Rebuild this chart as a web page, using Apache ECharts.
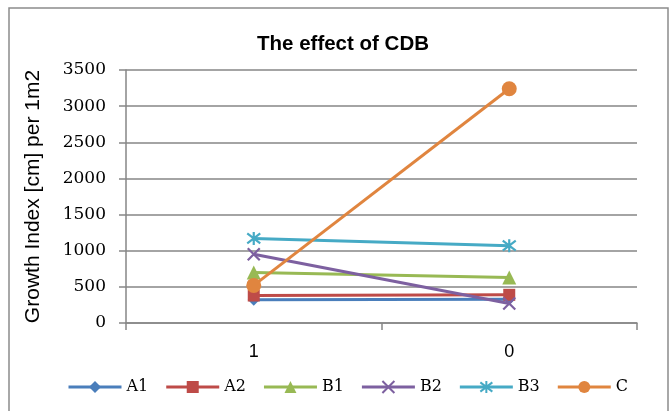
<!DOCTYPE html>
<html>
<head>
<meta charset="utf-8">
<script src="https://cdn.jsdelivr.net/npm/echarts@6/dist/echarts.min.js"></script>
<style>
  html, body { margin: 0; padding: 0; background: #fff; }
  #chart { width: 671px; height: 411px; }
</style>
</head>
<body>
<div id="chart"></div>
<script>
// Treatment levels on the category axis
var categories = ['1', '0'];

// Growth index per treatment group
var seriesNames = ['A1', 'A2', 'B1', 'B2', 'B3', 'C'];
var A1 = [320, 330];
var A2 = [380, 390];
var B1 = [700, 630];
var B2 = [950, 270];
var B3 = [1170, 1070];
var C  = [520, 3240];

var yTicks = { min: 0, max: 3500, interval: 500 };

var colors = ['#4A7EBB', '#BE4B48', '#98B954', '#7D60A0', '#46AAC5', '#E0853F'];
var symbols = [
  'diamond',
  'rect',
  'triangle',
  'path://M0,0L10,10M10,0L0,10',
  'path://M0,0L10,10M10,0L0,10M5,-1.5L5,11.5',
  'circle'
];
var symbolSizes = [12, 12, 14, 12, 13, 15];
var dataSets = [A1, A2, B1, B2, B3, C];

var series = seriesNames.map(function (name, i) {
  var stroked = i === 3 || i === 4;
  return {
    name: name,
    type: 'line',
    data: dataSets[i],
    symbol: symbols[i],
    symbolSize: symbolSizes[i],
    showAllSymbol: true,
    lineStyle: { color: colors[i], width: 3 },
    itemStyle: stroked
      ? { color: 'rgba(0,0,0,0)', borderColor: colors[i], borderWidth: 2.2 }
      : { color: colors[i], borderWidth: 0 },
    emphasis: { disabled: true },
    z: 2 + i
  };
});

var chart = echarts.init(document.getElementById('chart'), null, { renderer: 'canvas' });
chart.setOption({
  animation: false,
  color: colors,
  title: {
    text: 'The effect of CDB',
    left: 338,
    textAlign: 'center',
    top: 29,
    textStyle: { fontFamily: 'Liberation Sans, Arial, sans-serif', fontSize: 20.5, fontWeight: 'bold', color: '#000' }
  },
  graphic: [{
    type: 'rect',
    shape: { x: 9, y: 8, width: 659, height: 420 },
    style: { fill: 'none', stroke: '#8c8c8c', lineWidth: 1.5 },
    silent: true
  }],
  grid: { left: 126, right: 34, top: 70, bottom: 88, containLabel: false },
  legend: {
    data: seriesNames,
    top: 374,
    left: 62,
    itemWidth: 53,
    itemHeight: 15,
    itemGap: 16.5,
    lineStyle: { width: 3 },
    textStyle: { fontFamily: 'DejaVu Serif, serif', fontSize: 16, color: '#000' }
  },
  xAxis: {
    type: 'category',
    data: categories,
    boundaryGap: true,
    axisLine: { show: true, lineStyle: { color: '#868686', width: 1.5 } },
    axisTick: { show: true, length: 7, lineStyle: { color: '#868686', width: 1.5 } },
    axisLabel: { margin: 20, fontFamily: 'Liberation Sans, Arial, sans-serif', fontSize: 18, color: '#000' },
    splitLine: { show: false }
  },
  yAxis: {
    type: 'value',
    min: yTicks.min,
    max: yTicks.max,
    interval: yTicks.interval,
    name: 'Growth Index [cm] per 1m2',
    nameLocation: 'middle',
    nameRotate: 90,
    nameGap: 82,
    nameTextStyle: { fontFamily: 'Liberation Sans, Arial, sans-serif', fontSize: 21, color: '#000' },
    axisLine: { show: true, lineStyle: { color: '#868686', width: 1.5 } },
    axisTick: { show: true, length: 7, lineStyle: { color: '#868686', width: 1.5 } },
    axisLabel: {
      margin: 20,
      fontFamily: 'DejaVu Serif, serif',
      fontSize: 17,
      color: '#000',
      formatter: function (v) { return String(v); }
    },
    splitLine: { show: true, lineStyle: { color: '#868686', width: 1.5 } }
  },
  series: series
});
</script>
</body>
</html>
